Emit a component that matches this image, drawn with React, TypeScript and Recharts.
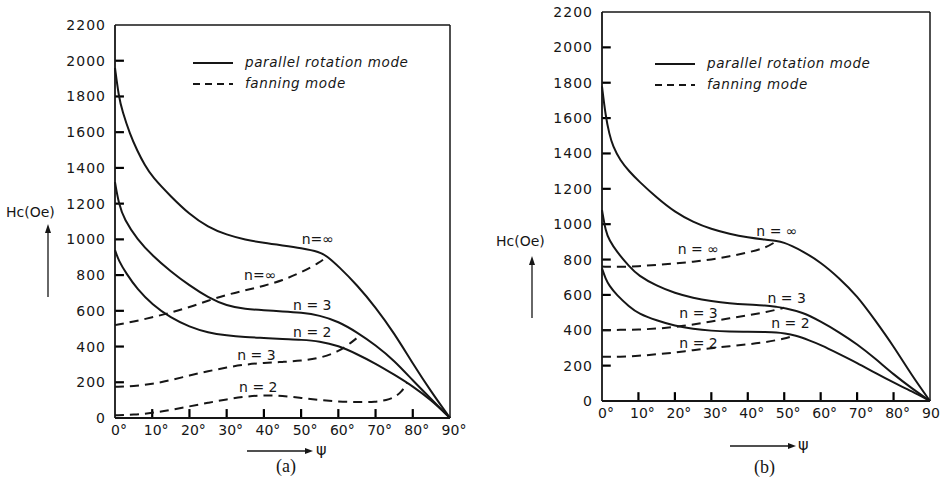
import React from 'react';
import {
  LineChart,
  Line,
  XAxis,
  YAxis,
  ReferenceLine,
  ReferenceDot,
  Legend,
} from 'recharts';

// ---------- data ----------
const psiTicks = [0, 10, 20, 30, 40, 50, 60, 70, 80, 90];
const hcTicks = [0, 200, 400, 600, 800, 1000, 1200, 1400, 1600, 1800, 2000, 2200];

// panel (a)
const aInfSolidPsi = [0, 1, 2, 4, 6, 8, 10, 15, 20, 25, 30, 35, 40, 45, 50, 55, 57, 60, 65, 70, 75, 80, 85, 90];
const aInfSolidHc = [1960, 1800, 1715, 1590, 1495, 1415, 1350, 1240, 1140, 1068, 1025, 998, 980, 966, 952, 930, 905, 850, 745, 620, 475, 305, 145, 0];
const a3SolidPsi = [0, 1, 2.5, 6, 10, 15, 20, 25, 30, 35, 40, 45, 50, 55, 60, 65, 70, 75, 80, 85, 90];
const a3SolidHc = [1320, 1200, 1110, 1000, 910, 820, 742, 675, 628, 610, 603, 597, 590, 575, 540, 480, 408, 322, 210, 105, 0];
const a2SolidPsi = [0, 1, 3, 6, 10, 15, 20, 25, 30, 35, 40, 45, 50, 55, 60, 65, 70, 75, 80, 85, 90];
const a2SolidHc = [940, 880, 810, 720, 635, 560, 510, 477, 462, 453, 448, 442, 438, 430, 405, 358, 305, 243, 178, 100, 0];
const aInfDashPsi = [0, 5, 10, 15, 20, 25, 30, 35, 40, 45, 50, 55, 57];
const aInfDashHc = [520, 540, 563, 590, 620, 657, 690, 715, 740, 770, 815, 870, 905];
const a3DashPsi = [0, 5, 10, 15, 20, 25, 30, 35, 40, 45, 50, 55, 60, 64, 66];
const a3DashHc = [175, 178, 190, 212, 238, 262, 283, 300, 308, 314, 320, 335, 370, 430, 466];
const a2DashPsi = [0, 5, 10, 15, 20, 25, 30, 35, 40, 45, 50, 55, 60, 65, 70, 73, 75, 77, 78.5];
const a2DashHc = [15, 18, 28, 45, 65, 85, 105, 120, 128, 125, 112, 100, 92, 88, 90, 100, 115, 145, 197];

// panel (b)
const bInfSolidPsi = [0, 1, 2, 3, 5, 7.5, 10, 15, 20, 25, 30, 35, 40, 45, 48, 50, 52, 55, 60, 65, 70, 75, 80, 85, 90];
const bInfSolidHc = [1780, 1610, 1510, 1440, 1360, 1298, 1245, 1150, 1068, 1012, 972, 945, 925, 912, 906, 895, 878, 848, 785, 697, 595, 455, 310, 145, 0];
const b3SolidPsi = [0, 1, 2, 4, 7.5, 10, 15, 20, 25, 30, 35, 40, 45, 48, 50, 55, 60, 65, 70, 75, 80, 85, 90];
const b3SolidHc = [1080, 960, 910, 845, 760, 709, 651, 610, 583, 565, 552, 545, 540, 532, 527, 502, 450, 390, 322, 240, 150, 72, 0];
const b2SolidPsi = [0, 1, 2, 4, 7.5, 10, 15, 20, 25, 30, 35, 40, 45, 48, 50, 53, 57, 60, 65, 70, 75, 80, 85, 90];
const b2SolidHc = [750, 690, 652, 600, 533, 495, 455, 425, 407, 397, 393, 392, 390, 388, 383, 372, 342, 318, 267, 216, 158, 104, 55, 0];
const bInfDashPsi = [0, 5, 10, 15, 20, 25, 30, 35, 40, 45, 48];
const bInfDashHc = [760, 758, 762, 770, 778, 787, 800, 818, 840, 866, 906];
const b3DashPsi = [0, 5, 10, 15, 20, 25, 30, 35, 40, 45, 50];
const b3DashHc = [402, 402, 404, 409, 418, 432, 450, 468, 485, 502, 527];
const b2DashPsi = [0, 5, 10, 15, 20, 25, 30, 35, 40, 45, 50, 53];
const b2DashHc = [250, 250, 255, 264, 274, 288, 299, 310, 320, 333, 352, 372];

// curve labels: text, psi, Hc
const aLabels = [
  { text: 'n=∞', psi: 54.5, hc: 1000 },
  { text: 'n=∞', psi: 39, hc: 800 },
  { text: 'n = 3', psi: 53, hc: 633 },
  { text: 'n = 2', psi: 53, hc: 483 },
  { text: 'n = 3', psi: 38, hc: 353 },
  { text: 'n = 2', psi: 38.5, hc: 175 },
];
const bLabels = [
  { text: 'n = ∞', psi: 48, hc: 963 },
  { text: 'n = ∞', psi: 26.4, hc: 860 },
  { text: 'n = 3', psi: 50.7, hc: 580 },
  { text: 'n = 3', psi: 26.5, hc: 495 },
  { text: 'n = 2', psi: 51.7, hc: 440 },
  { text: 'n = 2', psi: 26.5, hc: 327 },
];

const zip = (psi: number[], hc: number[]) => psi.map((p, i) => ({ psi: p, hc: hc[i] }));

const INK = '#161616';
const FONT = '"DejaVu Sans", sans-serif';
// length of the inward tick marks, in axis units
const TICK_PSI = 2.4;
const TICK_HC = 50;

const YTick = (props: any) => {
  const { x, y, payload } = props;
  return (
    <text x={x} y={y} dy={5} textAnchor="end" fill={INK} fontSize={14} letterSpacing={1} fontFamily={FONT}>
      {payload.value}
    </text>
  );
};

const XTick = (props: any) => {
  const { x, y, payload, last } = props;
  const isEnd = last && payload.value === 90;
  return (
    <text x={isEnd ? x + 1 : x + 4} y={y} dy={13} textAnchor="middle" fill={INK} fontSize={14} fontFamily={FONT}>
      {isEnd ? '90' : payload.value + '°'}
    </text>
  );
};

const LegendBox = () => (
  <div style={{ fontFamily: FONT, fontSize: 13.5, fontStyle: 'italic', color: INK, lineHeight: '21px' }}>
    <div style={{ display: 'flex', alignItems: 'center' }}>
      <svg width={42} height={10}><line x1={0} x2={40} y1={5} y2={5} stroke={INK} strokeWidth={2} /></svg>
      <span style={{ marginLeft: 10, letterSpacing: 0.6 }}>parallel rotation mode</span>
    </div>
    <div style={{ display: 'flex', alignItems: 'center' }}>
      <svg width={42} height={10}><line x1={0} x2={40} y1={5} y2={5} stroke={INK} strokeWidth={2} strokeDasharray="7 5" /></svg>
      <span style={{ marginLeft: 10, letterSpacing: 0.6 }}>fanning mode</span>
    </div>
  </div>
);

type Series = { psi: number[]; hc: number[]; dashed?: boolean };

const Panel = ({ width, height, margin, series, labels, legendPos, clipEnd }: {
  width: number; height: number; margin: any; series: Series[]; labels: typeof aLabels;
  legendPos: { left: number; top: number }; clipEnd?: boolean;
}) => (
  <LineChart width={width} height={height} margin={margin}>
    <XAxis
      type="number"
      dataKey="psi"
      domain={[0, 90]}
      ticks={psiTicks}
      height={20}
      tickSize={0}
      tickMargin={4}
      tickLine={false}
      tick={<XTick last={clipEnd} />}
      axisLine={{ stroke: INK, strokeWidth: 1.8 }}
      allowDuplicatedCategory={false}
    />
    <YAxis
      type="number"
      dataKey="hc"
      domain={[0, 2200]}
      ticks={hcTicks}
      width={60}
      tickSize={0}
      tickMargin={9}
      tickLine={false}
      tick={<YTick />}
      axisLine={{ stroke: INK, strokeWidth: 1.8 }}
      interval={0}
    />
    {/* inward tick marks */}
    {hcTicks.slice(1, -1).map((v) => (
      <ReferenceLine key={'yt' + v} segment={[{ x: 0, y: v }, { x: TICK_PSI, y: v }]} stroke="#000" strokeWidth={2.2} ifOverflow="visible" />
    ))}
    {psiTicks.slice(1, -1).map((v) => (
      <ReferenceLine key={'xt' + v} segment={[{ x: v, y: 0 }, { x: v, y: TICK_HC }]} stroke="#000" strokeWidth={2.2} ifOverflow="visible" />
    ))}
    <ReferenceLine x={90} stroke={INK} strokeWidth={1.5} />
    <ReferenceLine y={2200} stroke={INK} strokeWidth={1.5} />
    {series.map((s, i) => (
      <Line
        key={i}
        data={zip(s.psi, s.hc)}
        dataKey="hc"
        type="basis"
        stroke={INK}
        strokeWidth={2}
        strokeDasharray={s.dashed ? '9 6' : undefined}
        dot={false}
        isAnimationActive={false}
      />
    ))}
    {labels.map((l, i) => (
      <ReferenceDot
        key={'l' + i}
        x={l.psi}
        y={l.hc}
        r={0}
        stroke="none"
        label={{ value: l.text, position: 'center', fill: INK, fontSize: 14, fontFamily: FONT }}
      />
    ))}
    <Legend
      layout="vertical"
      align="center"
      verticalAlign="middle"
      content={<LegendBox />}
      wrapperStyle={{ left: legendPos.left, top: legendPos.top, width: 260 }}
    />
  </LineChart>
);

const seriesA: Series[] = [
  { psi: aInfSolidPsi, hc: aInfSolidHc },
  { psi: a3SolidPsi, hc: a3SolidHc },
  { psi: a2SolidPsi, hc: a2SolidHc },
  { psi: aInfDashPsi, hc: aInfDashHc, dashed: true },
  { psi: a3DashPsi, hc: a3DashHc, dashed: true },
  { psi: a2DashPsi, hc: a2DashHc, dashed: true },
];
const seriesB: Series[] = [
  { psi: bInfSolidPsi, hc: bInfSolidHc },
  { psi: b3SolidPsi, hc: b3SolidHc },
  { psi: b2SolidPsi, hc: b2SolidHc },
  { psi: bInfDashPsi, hc: bInfDashHc, dashed: true },
  { psi: b3DashPsi, hc: b3DashHc, dashed: true },
  { psi: b2DashPsi, hc: b2DashHc, dashed: true },
];

const txt: React.CSSProperties = { position: 'absolute', fontFamily: FONT, fontSize: 14, color: INK, whiteSpace: 'nowrap' };
const cap: React.CSSProperties = { position: 'absolute', fontFamily: '"Liberation Serif", serif', fontSize: 18, color: INK };

export default function App() {
  return (
    <div style={{ position: 'absolute', left: 0, top: 0, width: 943, height: 485, background: '#fff', overflow: 'hidden' }}>
      <div style={{ position: 'absolute', left: 0, top: 0 }}>
        <Panel
          width={470}
          height={440}
          margin={{ top: 25, right: 20, bottom: 2, left: 55 }}
          series={seriesA}
          labels={aLabels}
          legendPos={{ left: 193, top: 52 }}
        />
      </div>
      <div style={{ position: 'absolute', left: 470, top: 0 }}>
        <Panel
          width={473}
          height={430}
          margin={{ top: 12, right: 13, bottom: 9, left: 72 }}
          series={seriesB}
          labels={bLabels}
          legendPos={{ left: 185, top: 53 }}
          clipEnd
        />
      </div>

      {/* axis titles and arrows */}
      <div style={{ ...txt, left: 6, top: 204 }}>Hc(Oe)</div>
      <div style={{ ...txt, left: 496, top: 233 }}>Hc(Oe)</div>
      <div style={{ ...txt, left: 316, top: 440, fontSize: 16 }}>ψ</div>
      <div style={{ ...txt, left: 798, top: 435, fontSize: 16 }}>ψ</div>
      <svg width={943} height={485} style={{ position: 'absolute', left: 0, top: 0, pointerEvents: 'none' }}>
        <line x1={48} y1={297} x2={48} y2={232} stroke={INK} strokeWidth={1.3} />
        <polygon points="45,233 51,233 48,224" fill={INK} />
        <line x1={532} y1={318} x2={532} y2={264} stroke={INK} strokeWidth={1.3} />
        <polygon points="529,265 535,265 532,256" fill={INK} />
        <line x1={247} y1={451} x2={306} y2={451} stroke={INK} strokeWidth={1.3} />
        <polygon points="305,448 305,454 313,451" fill={INK} />
        <line x1={730} y1={446} x2={789} y2={446} stroke={INK} strokeWidth={1.3} />
        <polygon points="788,443 788,449 796,446" fill={INK} />
      </svg>
      <div style={{ ...cap, left: 276, top: 456 }}>(a)</div>
      <div style={{ ...cap, left: 754, top: 457 }}>(b)</div>
    </div>
  );
}
